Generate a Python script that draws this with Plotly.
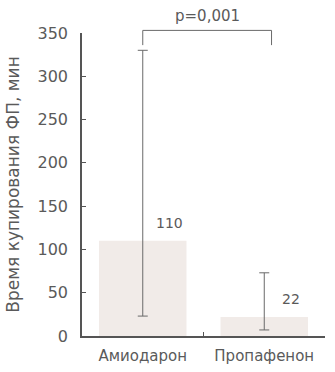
import plotly.graph_objects as go

categories = ["Амиодарон", "Пропафенон"]
medians = [110, 22]
mins = [23, 7]
maxs = [330, 73]
value_labels = ["110", "22"]
y_ticks = [0, 50, 100, 150, 200, 250, 300, 350]
p_text = "p=0,001"
y_title = "Время купирования ФП, мин"
bracket_top = 353
bracket_leg_bottom = 336

FONT = "DejaVu Sans"
TXT = "#5a5a5a"
Y_MAX = 350

fig = go.Figure()
fig.add_trace(go.Bar(
    x=categories, y=medians, width=0.72,
    marker=dict(color="#f1ebe8", line=dict(width=0)),
    error_y=dict(type="data", symmetric=False,
                 array=[mx - m for mx, m in zip(maxs, medians)],
                 arrayminus=[m - mn for m, mn in zip(medians, mins)],
                 color="#6a6a6a", thickness=1, width=5),
    hoverinfo="skip",
))

for cat, v, lab in zip(categories, medians, value_labels):
    fig.add_annotation(x=cat, y=v, text=lab, showarrow=False, xref="x", yref="y",
                       xanchor="center", yanchor="bottom", xshift=27, yshift=8,
                       font=dict(family=FONT, size=14, color=TXT))

# significance bracket (paper coords derived from category index / value scale)
def px(i):
    return (i + 0.5) / len(categories)

def py(v):
    return v / Y_MAX

x0, x1 = px(0), px(1) + 0.03
yt, yb = py(bracket_top), py(bracket_leg_bottom)
fig.add_shape(type="path", xref="paper", yref="paper",
              path=f"M {x0} {yb} L {x0} {yt} L {x1} {yt} L {x1} {yb}",
              line=dict(color="#6a6a6a", width=1))
fig.add_annotation(x=(x0 + x1) / 2, y=yt, xref="paper", yref="paper", text=p_text,
                   showarrow=False, xanchor="center", yanchor="bottom", yshift=3,
                   font=dict(family=FONT, size=15, color=TXT))

fig.update_layout(
    width=335, height=372,
    margin=dict(l=82, r=10, t=33, b=36),
    paper_bgcolor="white", plot_bgcolor="white",
    showlegend=False,
    bargap=0.28,
    font=dict(family=FONT, size=14, color=TXT),
)
fig.update_xaxes(range=[-0.5, 1.5], showline=True, linecolor="#555", linewidth=1.5,
                 ticks="inside", ticklen=4, tickcolor="#555", tickson="boundaries",
                 showgrid=False, automargin=False, ticklabelstandoff=5,
                 tickfont=dict(family=FONT, size=15, color=TXT))
fig.update_yaxes(range=[0, Y_MAX], tickvals=y_ticks, showline=True, linecolor="#555",
                 linewidth=1.5, ticks="inside", ticklen=4, tickcolor="#555",
                 showgrid=False, zeroline=False, ticklabelstandoff=9, automargin=False,
                 tickfont=dict(family=FONT, size=16, color=TXT),
                 title=dict(text=y_title, standoff=14, font=dict(family=FONT, size=17, color=TXT)))

fig.write_html("out.html", config={"displayModeBar": False},
               post_script="document.body.style.margin='0';document.body.style.overflow='hidden';")
